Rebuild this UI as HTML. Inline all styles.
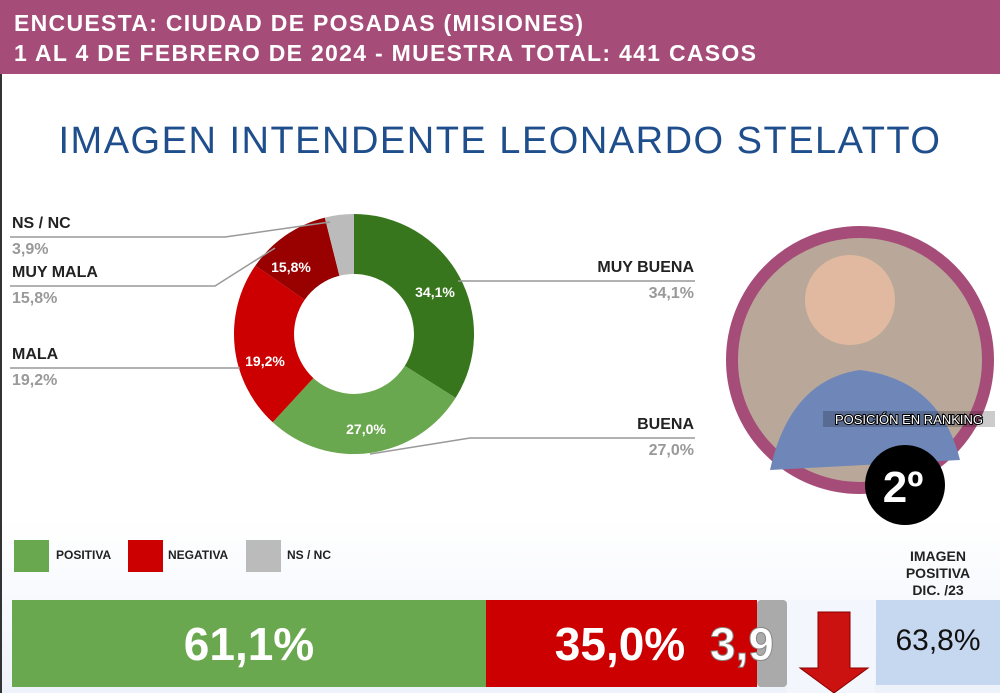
<!DOCTYPE html><html><head><style>
body{margin:0;width:1000px;height:693px;position:relative;overflow:hidden;background:#fff;font-family:"Liberation Sans",sans-serif}
.h{position:absolute;left:0;top:0;width:1000px;height:74px;background:#a54d78;color:#fff;font-weight:bold;font-size:23px;line-height:30px;padding:8px 0 0 14px;box-sizing:border-box;letter-spacing:1.3px}
.t{position:absolute;left:0;width:1000px;top:120px;text-align:center;color:#1f4e8c;font-size:38px;letter-spacing:1.5px}
.l{position:absolute;font-weight:bold;font-size:16px;color:#222}
.v{position:absolute;font-weight:bold;font-size:16px;color:#999}
.s{position:absolute;width:35px;height:32px;top:540px}
.lg{position:absolute;top:548px;font-size:12px;font-weight:bold;color:#222}
</style></head><body>
<div class="h">ENCUESTA: CIUDAD DE POSADAS (MISIONES)<br>1 AL 4 DE FEBRERO DE 2024 - MUESTRA TOTAL: 441 CASOS</div>
<div style="position:absolute;left:0;top:520px;width:1000px;height:173px;background:linear-gradient(#fff,#eef2fa)"></div>
<div style="position:absolute;left:0;top:74px;width:2px;height:619px;background:#333"></div>
<div class="t">IMAGEN INTENDENTE LEONARDO STELATTO</div>
<svg width="1000" height="693" style="position:absolute;left:0;top:0">
<g transform="translate(354,334)">
<path d="M0,-120 A120,120 0 0 1 101.6,63.9 L50.8,31.9 A60,60 0 0 0 0,-60Z" fill="#38761d"/>
<path d="M101.6,63.9 A120,120 0 0 1 -81.3,88.3 L-40.6,44.1 A60,60 0 0 0 50.8,31.9Z" fill="#6aa84f"/>
<path d="M-81.3,88.3 A120,120 0 0 1 -98.6,-68.4 L-49.3,-34.2 A60,60 0 0 0 -40.6,44.1Z" fill="#cc0000"/>
<path d="M-98.6,-68.4 A120,120 0 0 1 -29.2,-116.4 L-14.6,-58.2 A60,60 0 0 0 -49.3,-34.2Z" fill="#990000"/>
<path d="M-29.2,-116.4 A120,120 0 0 1 0,-120 L0,-60 A60,60 0 0 0 -14.6,-58.2Z" fill="#bbb"/>
</g>
<g fill="#fff" font-weight="bold" font-size="14" text-anchor="middle">
<text x="435" y="297">34,1%</text><text x="366" y="434">27,0%</text><text x="265" y="366">19,2%</text><text x="291" y="272">15,8%</text></g>
<g stroke="#999" stroke-width="1.5" fill="none">
<polyline points="10,237 225,237 330,222"/><polyline points="10,286 215,286 275,248"/><polyline points="10,368 240,368"/>
<polyline points="695,281 458,281"/><polyline points="695,438 470,438 370,454"/></g>
<circle cx="860" cy="360" r="128" fill="#b9a89a" stroke="#a54d78" stroke-width="12"/>
<circle cx="850" cy="300" r="45" fill="#e0b9a0"/>
<path d="M770,470 Q790,380 860,370 Q940,380 960,460 Z" fill="#6f86b8"/>
<rect x="823" y="411" width="172" height="16" fill="rgba(0,0,0,0.2)"/>
<text x="909" y="424" fill="#fff" font-size="13" text-anchor="middle" stroke="#000" stroke-width="2" paint-order="stroke">POSICIÓN EN RANKING</text>
<circle cx="905" cy="485" r="40" fill="#000"/>
<text x="903" y="502" fill="#fff" font-size="44" font-weight="bold" text-anchor="middle">2º</text>
<rect x="12" y="600" width="474" height="87" fill="#6aa84f"/>
<rect x="486" y="600" width="271" height="87" fill="#cc0000"/>
<rect x="757" y="600" width="30" height="87" fill="#aaa" rx="4"/>
<g fill="#fff" font-size="46" font-weight="bold" text-anchor="middle"><text x="249" y="660">61,1%</text><text x="620" y="660">35,0%</text></g>
<text x="710" y="660" fill="#fff" font-size="46" font-weight="bold" stroke="#888" stroke-width="1">3,9</text>
<rect x="787" y="600" width="88" height="93" fill="#f3f6fc"/>
<path d="M818,612 H850 V668 H868 L834,693 L800,668 H818Z" fill="#cc1111" stroke="#8a0000"/>
<rect x="876" y="600" width="124" height="85" fill="#c6d8f0"/>
<text x="938" y="650" font-size="30" text-anchor="middle" fill="#111">63,8%</text>
<g font-size="14" font-weight="bold" text-anchor="middle" fill="#222"><text x="938" y="561">IMAGEN</text><text x="938" y="578">POSITIVA</text><text x="938" y="595">DIC. /23</text></g>
</svg>
<div class="l" style="left:12px;top:215px">NS / NC</div><div class="v" style="left:12px;top:241px">3,9%</div>
<div class="l" style="left:12px;top:264px">MUY MALA</div><div class="v" style="left:12px;top:290px">15,8%</div>
<div class="l" style="left:12px;top:346px">MALA</div><div class="v" style="left:12px;top:372px">19,2%</div>
<div class="l" style="left:564px;top:259px;width:130px;text-align:right">MUY BUENA</div><div class="v" style="left:564px;top:285px;width:130px;text-align:right">34,1%</div>
<div class="l" style="left:564px;top:416px;width:130px;text-align:right">BUENA</div><div class="v" style="left:564px;top:442px;width:130px;text-align:right">27,0%</div>
<div class="s" style="left:14px;background:#6aa84f"></div><div class="lg" style="left:56px">POSITIVA</div>
<div class="s" style="left:128px;background:#cc0000"></div><div class="lg" style="left:168px">NEGATIVA</div>
<div class="s" style="left:246px;background:#bbb"></div><div class="lg" style="left:287px">NS / NC</div>
</body></html>
